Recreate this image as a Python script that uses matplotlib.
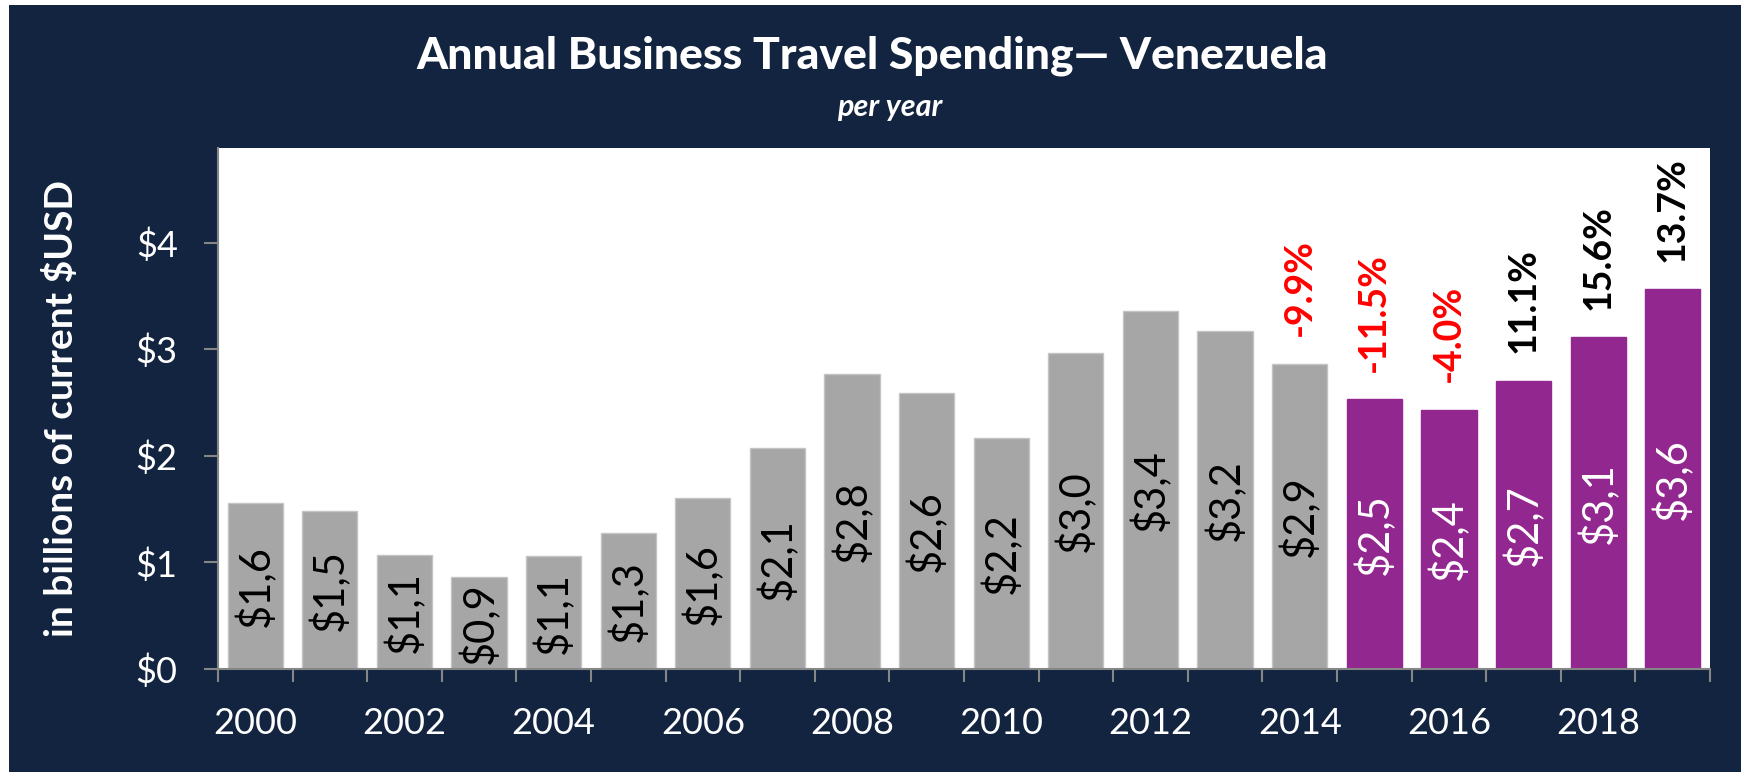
import matplotlib.pyplot as plt
from matplotlib.patches import Rectangle

plt.rcParams['font.family'] = ['Lato', 'DejaVu Sans']

years = list(range(2000, 2020))
spend = [1.56, 1.48, 1.07, 0.86, 1.06, 1.28, 1.60, 2.07, 2.77, 2.59,
         2.17, 2.96, 3.36, 3.17, 2.86, 2.53, 2.43, 2.70, 3.11, 3.56]
growth_years = [2014, 2015, 2016, 2017, 2018, 2019]
growth_pct = [-9.9, -11.5, -4.0, 11.1, 15.6, 13.7]
year_ticks = [2000, 2002, 2004, 2006, 2008, 2010, 2012, 2014, 2016, 2018]
y_ticks = [0, 1, 2, 3, 4]

navy = '#12243f'
grey = '#a6a6a6'
purple = '#92278f'

fig = plt.figure(figsize=(17.41, 7.72), dpi=100)
fig.patch.set_facecolor('white')
fig.patches.append(Rectangle((0.0052, 0), 1, 0.9935, transform=fig.transFigure,
                             facecolor=navy, edgecolor='none', zorder=-10))

ax = fig.add_axes([0.1252, 0.1334, 0.8570, 0.6753])
ax.set_facecolor('white')

x = list(range(len(years)))
colors = [grey if y < 2015 else purple for y in years]
edges = ['#c4c4c4' if y < 2015 else purple for y in years]
bars = ax.bar(x, spend, width=0.74, color=colors, edgecolor=edges, linewidth=1)

# value labels inside the bars, written with a decimal comma
for xi, v, yr in zip(x, spend, years):
    txt = '$' + f'{v:.1f}'.replace('.', ',')
    ax.text(xi, v / 2, txt, rotation=90, ha='center', va='center',
            fontsize=30, color='black' if yr < 2015 else 'white')

# year-on-year change above the last bars
for yr, p in zip(growth_years, growth_pct):
    i = years.index(yr)
    ax.annotate(f'{p:.1f}%', (i, spend[i]), xytext=(0, 20), textcoords='offset points',
                rotation=90, ha='center', va='bottom', fontsize=27, fontweight='bold',
                color='red' if p < 0 else 'black')

ax.set_xlim(-0.5, len(years) - 0.5)
ax.set_ylim(0, 4.89)

ax.set_yticks(y_ticks)
ax.set_yticklabels([f'${t}' for t in y_ticks])
ax.tick_params(axis='y', length=10, width=1.5, color='#868686', pad=19,
               labelsize=26, labelcolor='white')

ax.set_xticks([i - 0.5 for i in range(len(years) + 1)])
ax.set_xticklabels([])
ax.set_xticks([years.index(y) for y in year_ticks], minor=True)
ax.set_xticklabels([str(y) for y in year_ticks], minor=True)
ax.tick_params(axis='x', which='major', length=9.5, width=1.5, color='#868686')
ax.tick_params(axis='x', which='minor', length=0, pad=27, labelsize=26, labelcolor='white')

for s in ['top', 'right']:
    ax.spines[s].set_visible(False)
for s in ['left', 'bottom']:
    ax.spines[s].set_color('#868686')
    ax.spines[s].set_linewidth(1.5)

fig.text(0.501, 0.928, 'Annual Business Travel Spending\u2014 Venezuela', ha='center', va='center',
         fontsize=32, fontweight='black', color='white')
fig.text(0.511, 0.862, 'per year', ha='center', va='center',
         fontsize=22, fontweight='bold', fontstyle='italic', color='white')
fig.text(0.035, 0.4715, 'in billions of current $USD', rotation=90, ha='center', va='center',
         fontsize=28, fontweight='bold', color='white')

fig.savefig('out.png', dpi=100, facecolor=fig.get_facecolor())
